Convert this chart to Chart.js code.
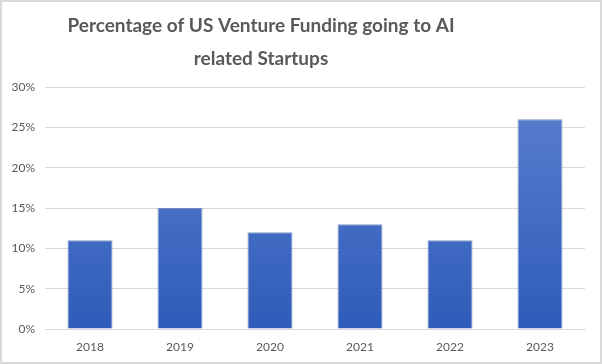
<!DOCTYPE html>
<html>
<head>
<meta charset="utf-8">
<script src="https://cdn.jsdelivr.net/npm/chart.js@4"></script>
<style>
  html, body { margin: 0; padding: 0; background: #fff; }
  #wrap {
    width: 602px; height: 364px; box-sizing: border-box;
    border: 2px solid #d9d9d9; background: #fff; position: relative;
  }
  canvas { display: block; }
</style>
</head>
<body>
<div id="wrap"><canvas id="fundingChart" width="598" height="360"></canvas></div>
<script>
// Data
const years = ['2018', '2019', '2020', '2021', '2022', '2023'];
const aiShare = [11, 15, 12, 13, 11, 26];
const titleLines = ['Percentage of US Venture Funding going to AI', 'related Startups'];

const textColor = '#595959';
const gridColor = '#d9d9d9';

// Vertical gradient like the Excel bar fill
function barGradient(context) {
    const chart = context.chart;
    const area = chart.chartArea;
    if (!area) return '#4472c4';
    const y0 = chart.scales.y.getPixelForValue(0);
    const g = chart.ctx.createLinearGradient(0, area.top, 0, y0);
    g.addColorStop(0, '#5b80cf');
    g.addColorStop(1, '#2f5cb9');
    return g;
}

// Title sits left of centre in the original, so draw it ourselves
const offsetTitle = {
    id: 'offsetTitle',
    afterDraw(chart) {
        const c = chart.ctx;
        c.save();
        c.fillStyle = textColor;
        c.font = 'bold 19px Lato';
        c.textAlign = 'center';
        c.textBaseline = 'middle';
        c.fillText(titleLines[0], 259, 24);
        c.fillText(titleLines[1], 259, 57);
        c.restore();
    }
};

const ctx = document.getElementById('fundingChart').getContext('2d');
new Chart(ctx, {
    type: 'bar',
    data: {
        labels: years,
        datasets: [{
            data: aiShare,
            backgroundColor: barGradient,
            borderColor: 'rgba(47,84,170,0.6)',
            borderWidth: 1,
            categoryPercentage: 1,
            barPercentage: 0.5
        }]
    },
    options: {
        responsive: false,
        animation: false,
        layout: { padding: { left: 0, right: 15, top: 85, bottom: 0 } },
        plugins: {
            legend: { display: false },
            tooltip: { enabled: false },
            title: { display: false }
        },
        scales: {
            x: {
                grid: { display: false, drawTicks: false },
                border: { color: gridColor },
                ticks: { color: textColor, font: { family: 'Lato', size: 12 }, padding: 11 },
                afterFit: s => { s.height = 33; }
            },
            y: {
                min: 0,
                max: 30,
                grid: { color: gridColor, drawTicks: false },
                border: { display: false },
                ticks: {
                    stepSize: 5,
                    color: textColor,
                    font: { family: 'Lato', size: 12 },
                    padding: 10,
                    callback: v => v + '%'
                },
                afterFit: s => { s.width = 43; }
            }
        }
    },
    plugins: [offsetTitle]
});
</script>
</body>
</html>
